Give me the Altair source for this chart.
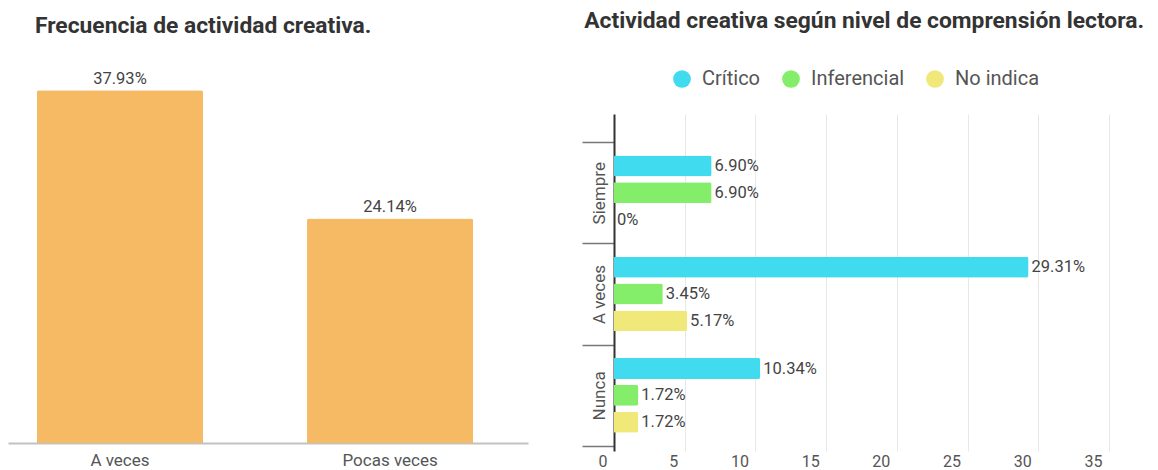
import altair as alt
import pandas as pd

# ---- data ----
freq_cats = ["A veces", "Pocas veces"]
freq_vals = [37.93, 24.14]

groups = ["Siempre", "A veces", "Nunca"]
levels = ["Crítico", "Inferencial", "No indica"]
critico = [6.90, 29.31, 10.34]
inferencial = [6.90, 3.45, 1.72]
no_indica = [0.0, 5.17, 1.72]
x_ticks = [0, 5, 10, 15, 20, 25, 30, 35]
level_colors = ["#41DBF0", "#84EE6A", "#F0E878"]

FONT = "Roboto"

left_df = pd.DataFrame({"cat": freq_cats, "val": freq_vals})
left_df["label"] = [f"{v:.2f}%" for v in freq_vals]

rows = []
for i, g in enumerate(groups):
    for lvl, arr in zip(levels, [critico, inferencial, no_indica]):
        v = arr[i]
        rows.append({"grupo": g, "nivel": lvl, "val": v,
                     "label": "0%" if v == 0 else f"{v:.2f}%"})
right_df = pd.DataFrame(rows)

# ---- left chart ----
# plot area shares its top with the right panel; the value scale reaches above it
left_base = alt.Chart(left_df).encode(
    x=alt.X("cat:N", sort=freq_cats, title=None,
            scale=alt.Scale(paddingInner=0.385, paddingOuter=0.155, align=0.345),
            axis=alt.Axis(labelAngle=0, ticks=False, domainColor="#c2c2c2", domainWidth=2,
                          labelFontSize=17, labelColor="#555", labelPadding=9, labelFont=FONT)),
    y=alt.Y("val:Q", scale=alt.Scale(domain=[0, 40], range=[329, -43]), axis=None),
)
left_bars = left_base.mark_bar(color="#F5BA63", cornerRadiusTopLeft=2, cornerRadiusTopRight=2)
left_text = left_base.mark_text(dy=-11, fontSize=16.5, color="#444", font=FONT).encode(text="label:N")
left = (left_bars + left_text).properties(
    width=520, height=329,
    title=alt.TitleParams("Frecuencia de actividad creativa.", anchor="start", dx=27,
                          fontSize=22.8, font=FONT, fontWeight="bold",
                          color="#333", offset=33),
)

# ---- right chart ----
color_scale = alt.Scale(domain=levels, range=level_colors)
right_base = alt.Chart(right_df).encode(
    y=alt.Y("grupo:N", sort=groups, title=None,
            scale=alt.Scale(paddingInner=0, paddingOuter=0.163, align=0.85),
            axis=alt.Axis(tickBand="extent", tickSize=32, tickColor="#777", tickWidth=1.5,
                          domainColor="#333", domainWidth=2, labelAngle=-90,
                          labelAlign="center", labelBaseline="bottom", labelPadding=-26,
                          labelFontSize=17, labelColor="#555", labelFont=FONT)),
    yOffset=alt.YOffset("nivel:N", sort=levels,
                        scale=alt.Scale(paddingInner=0.22, paddingOuter=0.5)),
    x=alt.X("val:Q", scale=alt.Scale(domain=[0, 35], nice=False), title=None,
            axis=alt.Axis(values=x_ticks, grid=True, gridColor="#e8e8e8", domain=False,
                          ticks=False, labelAlign="right", labelOffset=-7, labelFontSize=16,
                          labelColor="#555", labelPadding=2, labelFont=FONT)),
)
right_bars = right_base.mark_bar(cornerRadiusEnd=2).encode(
    color=alt.Color("nivel:N", scale=color_scale, sort=levels,
                    legend=alt.Legend(orient="none", legendX=664, legendY=-45,
                                      direction="horizontal", title=None,
                                      symbolType="circle", symbolSize=314,
                                      symbolStrokeWidth=0, symbolOpacity=1,
                                      labelFontSize=20, labelColor="#555", labelFont=FONT,
                                      columnPadding=20, labelOffset=10, padding=0))
)
right_text = right_base.mark_text(align="left", dx=3, fontSize=16.5, color="#444",
                                  font=FONT).encode(text="label:N")
right = (right_bars + right_text).properties(
    width=495, height=337,
    title=alt.TitleParams("Actividad creativa según nivel de comprensión lectora.",
                          anchor="start", dx=3, fontSize=22.8, font=FONT,
                          fontWeight="bold", color="#333", offset=81),
)

chart = alt.hconcat(left, right, spacing=53).properties(
    padding={"left": 0, "top": 2, "right": 0, "bottom": 0},
    background="white",
).configure_view(strokeWidth=0)

chart.save("out.html", embed_options={"renderer": "svg", "actions": False})
